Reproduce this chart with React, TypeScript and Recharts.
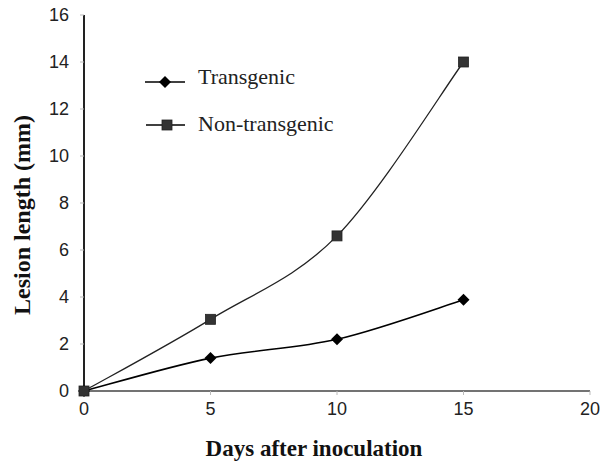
import React from 'react';
import { LineChart, Line, XAxis, YAxis } from 'recharts';

const days = [0, 5, 10, 15];
const transgenic = [0, 1.4, 2.2, 3.88];
const nonTransgenic = [0, 3.05, 6.6, 14];
const xTicks = [0, 5, 10, 15, 20];
const yTicks = [0, 2, 4, 6, 8, 10, 12, 14, 16];
const seriesNames = ['Transgenic', 'Non-transgenic'];

const data = days.map((d, i) => ({ day: d, t: transgenic[i], n: nonTransgenic[i] }));

// Excel-like smoothing (uniform Catmull-Rom as cubic Bezier)
const smoothCurve: any = (context: any) => {
  let pts: number[][] = [];
  return {
    areaStart() {},
    areaEnd() {},
    lineStart() {
      pts = [];
    },
    point(x: number, y: number) {
      pts.push([+x, +y]);
    },
    lineEnd() {
      const n = pts.length;
      if (!n) return;
      context.moveTo(pts[0][0], pts[0][1]);
      for (let i = 0; i < n - 1; i++) {
        const p0 = pts[i - 1] || pts[i];
        const p1 = pts[i];
        const p2 = pts[i + 1];
        const p3 = pts[i + 2] || pts[i + 1];
        const c1x = p1[0] + (p2[0] - p0[0]) / 6;
        const c1y = p1[1] + (p2[1] - p0[1]) / 6;
        const c2x = p2[0] - (p3[0] - p1[0]) / 6;
        const c2y = p2[1] - (p3[1] - p1[1]) / 6;
        context.bezierCurveTo(c1x, c1y, c2x, c2y, p2[0], p2[1]);
      }
    },
  };
};

const Diamond = (props: any) => {
  const { cx, cy } = props;
  if (cx == null || cy == null) return null;
  return <path d={`M${cx},${cy - 6}L${cx + 6},${cy}L${cx},${cy + 6}L${cx - 6},${cy}Z`} fill="#000" />;
};
const Square = (props: any) => {
  const { cx, cy } = props;
  if (cx == null || cy == null) return null;
  return <rect x={cx - 5} y={cy - 5} width={10} height={10} fill="#333" stroke="#222" strokeWidth={0.8} />;
};

const serif = "'Liberation Serif', 'Times New Roman', serif";
const sans = "'Liberation Sans', Arial, sans-serif";

const LegendBox = () => (
  <svg width={260} height={100} style={{ position: 'absolute', left: 143, top: 56, display: 'block' }}>
    <line x1={2} y1={26} x2={42} y2={26} stroke="#000" strokeWidth={1.6} />
    <Diamond cx={22} cy={26} />
    <text x={55} y={28} fontFamily={serif} fontSize={22} fill="#222">{seriesNames[0]}</text>
    <line x1={3} y1={69} x2={42} y2={69} stroke="#000" strokeWidth={1.4} />
    <Square cx={24} cy={69} />
    <text x={55} y={75} fontFamily={serif} fontSize={22} fill="#222">{seriesNames[1]}</text>
  </svg>
);

export default function App() {
  return (
    <div style={{ position: 'absolute', left: 0, top: 0, width: 602, height: 464, background: '#fff' }}>
      <LineChart width={602} height={464} data={data} margin={{ top: 15, right: 12, bottom: 43, left: 0 }}>
        <XAxis
          dataKey="day"
          type="number"
          domain={[0, 20]}
          ticks={xTicks}
          height={30}
          tick={{ fill: '#222', fontSize: 18, fontFamily: sans }}
          tickLine={{ stroke: '#bbb' }}
          tickSize={4}
          tickMargin={7}
          axisLine={{ stroke: '#444', strokeWidth: 1.6 }}
          label={{
            content: () => (
              <text x={314} y={456} textAnchor="middle" fontFamily={serif} fontWeight="bold" fontSize={23} fill="#111">
                Days after inoculation
              </text>
            ),
          }}
        />
        <YAxis
          type="number"
          domain={[0, 16]}
          ticks={yTicks}
          width={84}
          tick={{ fill: '#222', fontSize: 18, fontFamily: sans }}
          tickLine={{ stroke: '#bbb' }}
          tickSize={4}
          tickMargin={11}
          axisLine={{ stroke: '#222', strokeWidth: 2 }}
          label={{
            content: () => (
              <text x={30} y={215} textAnchor="middle" transform="rotate(-90 30 215)" fontFamily={serif} fontWeight="bold" fontSize={24} fill="#111">
                Lesion length (mm)
              </text>
            ),
          }}
        />
        <Line type={smoothCurve} dataKey="t" name={seriesNames[0]} stroke="#000" strokeWidth={1.6} dot={<Diamond />} activeDot={false} isAnimationActive={false} />
        <Line type={smoothCurve} dataKey="n" name={seriesNames[1]} stroke="#222" strokeWidth={1.3} dot={<Square />} activeDot={false} isAnimationActive={false} />
      </LineChart>
      <LegendBox />
    </div>
  );
}
